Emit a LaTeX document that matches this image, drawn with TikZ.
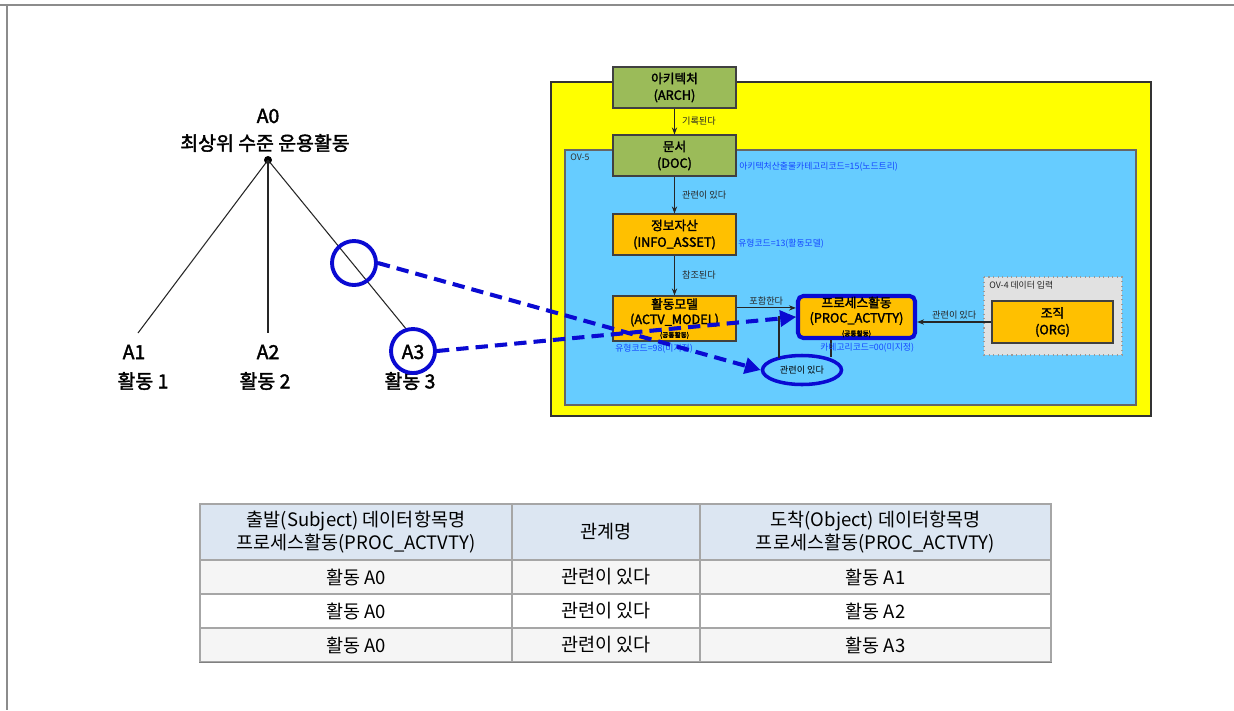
\documentclass[tikz,border=0pt]{standalone}
\usepackage{fontspec}
\setmainfont{Noto Sans CJK KR}[AutoFakeBold=2]
\newfontfamily\krn{Noto Sans CJK KR}[AutoFakeBold=2]
\usetikzlibrary{arrows.meta,shapes.geometric}
\newcommand\pxu{0.567pt}
\definecolor{ylw}{RGB}{255,255,0}
\definecolor{skyb}{RGB}{102,204,255}
\definecolor{grn}{RGB}{155,187,89}
\definecolor{org}{RGB}{255,192,0}
\definecolor{bblue}{RGB}{10,10,210}
\definecolor{lblue}{RGB}{20,70,255}
\definecolor{hdr}{RGB}{220,230,242}
\definecolor{rowg}{RGB}{245,245,245}
\definecolor{ovgray}{RGB}{225,225,225}
\begin{document}
\begin{tikzpicture}[x=0.567pt,y=-0.567pt,
  treelbl/.style={font=\bfseries\fontsize{11}{12}\selectfont, inner sep=0pt},
  treeline/.style={line width=0.6pt, black!85},
  box/.style={draw=black!75, line width=0.6pt, align=center, inner sep=0pt,
    font={\krn\bfseries\fontsize{7.2}{9.4}\selectfont}, minimum width=123*\pxu, minimum height=41*\pxu},
  conn/.style={-{Stealth[length=4pt,width=3pt]}, line width=0.6pt, black!85},
  lbl/.style={font={\krn\fontsize{5.2}{6}\selectfont}, inner sep=0pt, anchor=west, text=black!85},
  bluelbl/.style={font={\krn\fontsize{5}{6}\selectfont}, inner sep=0pt, anchor=west, text=lblue},
  hcirc/.style={circle, draw=bblue, line width=2.2pt, inner sep=0pt, minimum size=44*\pxu},
  dasharr/.style={draw=bblue, line width=2.3pt, dash pattern=on 7pt off 4pt, -{Triangle[length=9pt,width=9pt]}},
  cell/.style={draw=black!35, line width=0.6pt, inner sep=0pt, align=center,
    font={\krn\fontsize{10.5}{13}\selectfont}, minimum height=34*\pxu},
  c1/.style={minimum width=312*\pxu},
  c2/.style={minimum width=188*\pxu},
  c3/.style={minimum width=351*\pxu}
]
\useasboundingbox (0,0) rectangle (1234,710);
\fill[white] (0,0) rectangle (1234,710);
\draw[black!45, line width=1.2pt] (0,5) -- (1234,5);
\draw[black!45, line width=0.8pt] (7,5) -- (7,710);

% ---------------- tree ----------------
\node[treelbl] (a0t) at (268,116) {A0};
\node[treelbl] (a0n) at (265,143) {최상위 수준 운용활동};
\node[circle, fill=black, inner sep=0pt, minimum width=8*\pxu, minimum height=6*\pxu] (a0) at (268,160) {};
\coordinate (e1) at (138,333);
\coordinate (e2) at (268,333);
\coordinate (e3) at (407,330);
\draw[treeline] (a0.center) -- (e1);
\draw[treeline] (a0.center) -- (e2);
\draw[treeline] (a0.center) -- (e3);
\node[treelbl] (a1) at (134,352) {A1};
\node[treelbl] (a1n) at (143,381) {활동 1};
\node[treelbl] (a2) at (268,352) {A2};
\node[treelbl] (a2n) at (265,381) {활동 2};
\node[treelbl] (a3) at (413,352) {A3};
\node[treelbl] (a3n) at (410,381) {활동 3};
\node[hcirc] (c3c) at (413,351) {};
\node[hcirc] (c1c) at (354,263) {};

% ---------------- model ----------------
\draw[fill=ylw, draw=black!80, line width=0.9pt] (551,82) rectangle (1151,416);
\draw[fill=skyb, draw=black!60, line width=0.6pt] (565,150) rectangle (1136,405);
\node[font={\krn\fontsize{5}{5}\selectfont}, text=black!80, anchor=west, inner sep=0pt] (ov5) at (570,157) {OV-5};

\node[box, fill=grn] (arch) at (674.5,87.5) {아키텍처\\(ARCH)};
\node[box, fill=grn] (doc) at (674.5,155.5) {문서\\(DOC)};
\node[box, fill=org] (info) at (674.5,234.5) {정보자산\\(INFO\_ASSET)};
\node[box, fill=org, minimum height=45*\pxu, font={\krn\bfseries\fontsize{7.2}{8.6}\selectfont}] (actv) at (674.5,318.5) {활동모델\\(ACTV\_MODEL)\\[-1pt]{\krn\fontsize{3.8}{4}\selectfont (공통활동)}};

\draw[fill=ovgray, draw=black!40, line width=0.6pt, dotted] (984,277) rectangle (1122,355);
\node[font={\krn\fontsize{5}{5}\selectfont}, text=black!85, anchor=west, inner sep=0pt] (ov4) at (989,285) {OV-4 데이터 입력};
\node[box, fill=org, minimum width=121*\pxu, minimum height=42*\pxu] (orgn) at (1052.5,322) {조직\\(ORG)};

\node[box, fill=org, draw=bblue, line width=2.3pt, rounded corners=3pt, minimum width=117*\pxu, minimum height=42*\pxu,
  font={\krn\bfseries\fontsize{7.2}{8.6}\selectfont}] (proc) at (856.5,317) {프로세스활동\\(PROC\_ACTVTY)\\[-1pt]{\krn\fontsize{3.8}{4}\selectfont (공통활동)}};

\node[ellipse, draw=bblue, line width=2pt, fill=skyb, minimum width=79*\pxu, minimum height=29*\pxu, inner sep=0pt,
  font={\krn\fontsize{5.2}{6}\selectfont}] (rel) at (802,370) {관련이 있다};

\draw[conn] (arch) -- (doc) node[midway, lbl, xshift=4pt] {기록된다};
\draw[conn] (doc) -- (info) node[midway, lbl, xshift=4pt] {관련이 있다};
\draw[conn] (info) -- (actv) node[midway, lbl, xshift=4pt] {참조된다};
\draw[conn] ([yshift=6pt]actv.east) -- ([yshift=6pt]actv.east -| proc.west) node[midway, lbl, anchor=south, yshift=1.5pt] {포함한다};
\draw[conn] (orgn.west) -- (orgn.west -| proc.east) node[midway, lbl, anchor=south, yshift=1.5pt] {관련이 있다};
\coordinate (lp1) at (779,358);
\coordinate (lp2) at (831,357);
\draw[conn] (lp1) |- (proc.west);
\draw[line width=0.6pt, black!85] (lp2) -- (lp2 |- proc.south);

\node[bluelbl] (l1) at (739,167) {아키텍처산출물카테고리코드=15(노드트리)};
\node[bluelbl] (l2) at (738,244) {유형코드=13(활동모델)};
\node[bluelbl] (l3) at (615,349) {유형코드=98(미지정)};
\node[bluelbl] (l4) at (820,348) {카테고리코드=00(미지정)};

% dashed arrows
\draw[dasharr] (c1c.east) -- (rel.west);
\draw[dasharr] (c3c.east) -- (proc.west);

% ---------------- table ----------------
\node[cell, c1, fill=hdr, minimum height=56*\pxu] (h1) at (356,532) {출발(Subject) 데이터항목명\\프로세스활동(PROC\_ACTVTY)};
\node[cell, c2, fill=hdr, minimum height=56*\pxu] (h2) at (606,532) {관계명};
\node[cell, c3, fill=hdr, minimum height=56*\pxu] (h3) at (875.5,532) {도착(Object) 데이터항목명\\프로세스활동(PROC\_ACTVTY)};
\node[cell, c1, fill=rowg] (r11) at (356,577) {활동 A0};
\node[cell, c2, fill=rowg] (r12) at (606,577) {관련이 있다};
\node[cell, c3, fill=rowg] (r13) at (875.5,577) {활동 A1};
\node[cell, c1, fill=white] (r21) at (356,611) {활동 A0};
\node[cell, c2, fill=white] (r22) at (606,611) {관련이 있다};
\node[cell, c3, fill=white] (r23) at (875.5,611) {활동 A2};
\node[cell, c1, fill=rowg] (r31) at (356,645) {활동 A0};
\node[cell, c2, fill=rowg] (r32) at (606,645) {관련이 있다};
\node[cell, c3, fill=rowg] (r33) at (875.5,645) {활동 A3};
\draw[black!50, line width=0.9pt] (r31.south west) -- (r33.south east);
\end{tikzpicture}
\end{document}
